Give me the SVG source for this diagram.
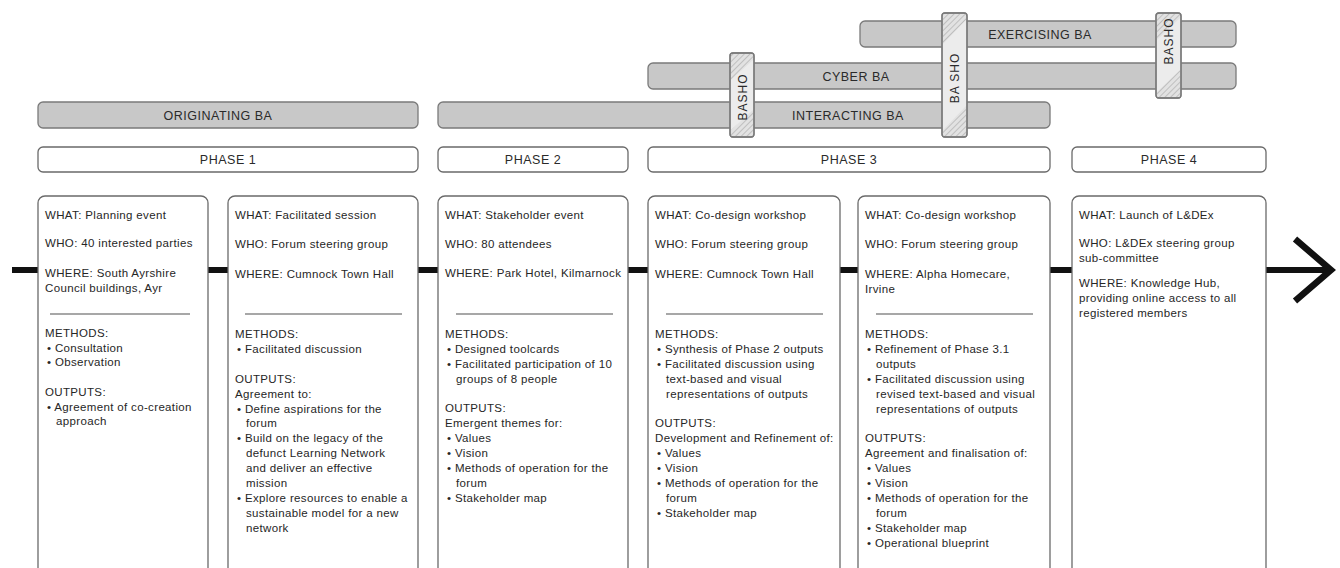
<svg xmlns="http://www.w3.org/2000/svg" width="1340" height="568" viewBox="0 0 1340 568">
<defs>
<style>
.bar{fill:#c8c8c8;stroke:#7a7a7a;stroke-width:1.3}
.phase{fill:#fff;stroke:#6a6a6a;stroke-width:1.3}
.card{fill:#fff;stroke:#6a6a6a;stroke-width:1.3}
.lbl{font-family:"Liberation Sans",Arial,sans-serif;font-size:12.5px;fill:#2a2a2a;text-anchor:middle;letter-spacing:0.5px}
.t{font-family:"Liberation Sans",Arial,sans-serif;font-size:11.5px;fill:#262626;letter-spacing:0.35px}
.sep{stroke:#8a8a8a;stroke-width:1.5}
.basho{fill:#ececec;stroke:#7a7a7a;stroke-width:1.3}
.bt{font-family:"Liberation Sans",Arial,sans-serif;font-size:12px;fill:#2a2a2a;text-anchor:middle;letter-spacing:1px}
</style>
<pattern id="hatch" width="4" height="4" patternUnits="userSpaceOnUse" patternTransform="rotate(45)">
<rect width="4" height="4" fill="#e2e2e2"/>
<line x1="0" y1="0" x2="0" y2="4" stroke="#a8a8a8" stroke-width="1.2"/>
</pattern>
</defs>

<g id="connectors">
<line x1="12" y1="270" x2="1326" y2="270" stroke="#111" stroke-width="6"/>
<polyline points="1295,239 1331,270 1295,301" fill="none" stroke="#111" stroke-width="6.5"/>
</g>

<g id="exercising-ba"><rect class="bar" x="860" y="21" width="376" height="26" rx="5"/><text class="lbl" x="1040" y="38.5">EXERCISING BA</text></g>
<g id="cyber-ba"><rect class="bar" x="648" y="63" width="588" height="26" rx="5"/><text class="lbl" x="856" y="80.5">CYBER BA</text></g>
<g id="interacting-ba"><rect class="bar" x="438" y="102" width="612" height="26" rx="5"/><text class="lbl" x="848" y="119.5">INTERACTING BA</text></g>
<g id="originating-ba"><rect class="bar" x="38" y="102" width="380" height="26" rx="5"/><text class="lbl" x="218" y="119.5">ORIGINATING BA</text></g>

<g id="basho-1">
<rect class="basho" x="730" y="53" width="24" height="84" rx="3"/>
<polygon points="731,54 753,54 753,60 731,80" fill="url(#hatch)"/>
<polygon points="731,136 753,136 753,110 731,130" fill="url(#hatch)"/>
<rect x="730" y="53" width="24" height="84" rx="3" fill="none" stroke="#7a7a7a" stroke-width="1.3"/>
<text class="bt" transform="translate(746.5,97) rotate(-90)">BASHO</text>
</g>
<g id="basho-2">
<rect class="basho" x="942" y="13" width="25" height="124" rx="3"/>
<polygon points="943,14 966,14 966,20 943,44" fill="url(#hatch)"/>
<polygon points="943,136 966,136 966,106 943,130" fill="url(#hatch)"/>
<rect x="942" y="13" width="25" height="124" rx="3" fill="none" stroke="#7a7a7a" stroke-width="1.3"/>
<text class="bt" transform="translate(958.5,78) rotate(-90)">BA SHO</text>
</g>
<g id="basho-3">
<rect class="basho" x="1156" y="13" width="25" height="85" rx="3"/>
<polygon points="1157,14 1180,14 1180,18 1157,40" fill="url(#hatch)"/>
<polygon points="1157,97 1180,97 1180,70 1157,92" fill="url(#hatch)"/>
<rect x="1156" y="13" width="25" height="85" rx="3" fill="none" stroke="#7a7a7a" stroke-width="1.3"/>
<text class="bt" transform="translate(1172.5,41) rotate(-90)">BASHO</text>
</g>

<g id="phase-1"><rect class="phase" x="38" y="147" width="380" height="25" rx="5"/><text class="lbl" x="228" y="164">PHASE 1</text></g>
<g id="phase-2"><rect class="phase" x="438" y="147" width="190" height="25" rx="5"/><text class="lbl" x="533" y="164">PHASE 2</text></g>
<g id="phase-3"><rect class="phase" x="648" y="147" width="402" height="25" rx="5"/><text class="lbl" x="849" y="164">PHASE 3</text></g>
<g id="phase-4"><rect class="phase" x="1072" y="147" width="194" height="25" rx="5"/><text class="lbl" x="1169" y="164">PHASE 4</text></g>

<g id="card-1">
<rect class="card" x="38" y="196" width="170" height="390" rx="7"/>
<text class="t" x="45" y="219">WHAT: Planning event</text>
<text class="t" x="45" y="247">WHO: 40 interested parties</text>
<text class="t" x="45" y="277">WHERE: South Ayrshire</text>
<text class="t" x="45" y="292">Council buildings, Ayr</text>
<line class="sep" x1="50" y1="314" x2="190" y2="314"/>
<text class="t" x="45" y="337">METHODS:</text>
<text class="t" x="47" y="352">• Consultation</text>
<text class="t" x="47" y="366">• Observation</text>
<text class="t" x="45" y="396">OUTPUTS:</text>
<text class="t" x="47" y="411">• Agreement of co-creation</text>
<text class="t" x="56" y="425">approach</text>
</g>

<g id="card-2">
<rect class="card" x="228" y="196" width="190" height="390" rx="7"/>
<text class="t" x="235" y="219">WHAT: Facilitated session</text>
<text class="t" x="235" y="248">WHO: Forum steering group</text>
<text class="t" x="235" y="278">WHERE: Cumnock Town Hall</text>
<line class="sep" x1="245" y1="314" x2="402" y2="314"/>
<text class="t" x="235" y="338">METHODS:</text>
<text class="t" x="237" y="353">• Facilitated discussion</text>
<text class="t" x="235" y="383">OUTPUTS:</text>
<text class="t" x="235" y="398">Agreement to:</text>
<text class="t" x="237" y="413">• Define aspirations for the</text>
<text class="t" x="246" y="427">forum</text>
<text class="t" x="237" y="442">• Build on the legacy of the</text>
<text class="t" x="246" y="457">defunct Learning Network</text>
<text class="t" x="246" y="472">and deliver an effective</text>
<text class="t" x="246" y="487">mission</text>
<text class="t" x="237" y="502">• Explore resources to enable a</text>
<text class="t" x="246" y="517">sustainable model for a new</text>
<text class="t" x="246" y="532">network</text>
</g>

<g id="card-3">
<rect class="card" x="438" y="196" width="190" height="390" rx="7"/>
<text class="t" x="445" y="219">WHAT: Stakeholder event</text>
<text class="t" x="445" y="248">WHO: 80 attendees</text>
<text class="t" x="445" y="277">WHERE: Park Hotel, Kilmarnock</text>
<line class="sep" x1="456" y1="314" x2="613" y2="314"/>
<text class="t" x="445" y="338">METHODS:</text>
<text class="t" x="447" y="353">• Designed toolcards</text>
<text class="t" x="447" y="368">• Facilitated participation of 10</text>
<text class="t" x="456" y="383">groups of 8 people</text>
<text class="t" x="445" y="412">OUTPUTS:</text>
<text class="t" x="445" y="427">Emergent themes for:</text>
<text class="t" x="447" y="442">• Values</text>
<text class="t" x="447" y="457">• Vision</text>
<text class="t" x="447" y="472">• Methods of operation for the</text>
<text class="t" x="456" y="487">forum</text>
<text class="t" x="447" y="502">• Stakeholder map</text>
</g>

<g id="card-4">
<rect class="card" x="648" y="196" width="192" height="390" rx="7"/>
<text class="t" x="655" y="219">WHAT: Co-design workshop</text>
<text class="t" x="655" y="248">WHO: Forum steering group</text>
<text class="t" x="655" y="278">WHERE: Cumnock Town Hall</text>
<line class="sep" x1="666" y1="314" x2="823" y2="314"/>
<text class="t" x="655" y="338">METHODS:</text>
<text class="t" x="657" y="353">• Synthesis of Phase 2 outputs</text>
<text class="t" x="657" y="368">• Facilitated discussion using</text>
<text class="t" x="666" y="383">text-based and visual</text>
<text class="t" x="666" y="398">representations of outputs</text>
<text class="t" x="655" y="427">OUTPUTS:</text>
<text class="t" x="655" y="442">Development and Refinement of:</text>
<text class="t" x="657" y="457">• Values</text>
<text class="t" x="657" y="472">• Vision</text>
<text class="t" x="657" y="487">• Methods of operation for the</text>
<text class="t" x="666" y="502">forum</text>
<text class="t" x="657" y="517">• Stakeholder map</text>
</g>

<g id="card-5">
<rect class="card" x="858" y="196" width="192" height="390" rx="7"/>
<text class="t" x="865" y="219">WHAT: Co-design workshop</text>
<text class="t" x="865" y="248">WHO: Forum steering group</text>
<text class="t" x="865" y="278">WHERE: Alpha Homecare,</text>
<text class="t" x="865" y="293">Irvine</text>
<line class="sep" x1="876" y1="314" x2="1033" y2="314"/>
<text class="t" x="865" y="338">METHODS:</text>
<text class="t" x="867" y="353">• Refinement of Phase 3.1</text>
<text class="t" x="876" y="368">outputs</text>
<text class="t" x="867" y="383">• Facilitated discussion using</text>
<text class="t" x="876" y="398">revised text-based and visual</text>
<text class="t" x="876" y="413">representations of outputs</text>
<text class="t" x="865" y="442">OUTPUTS:</text>
<text class="t" x="865" y="457">Agreement and finalisation of:</text>
<text class="t" x="867" y="472">• Values</text>
<text class="t" x="867" y="487">• Vision</text>
<text class="t" x="867" y="502">• Methods of operation for the</text>
<text class="t" x="876" y="517">forum</text>
<text class="t" x="867" y="532">• Stakeholder map</text>
<text class="t" x="867" y="547">• Operational blueprint</text>
</g>

<g id="card-6">
<rect class="card" x="1072" y="196" width="194" height="390" rx="7"/>
<text class="t" x="1079" y="219">WHAT: Launch of L&amp;DEx</text>
<text class="t" x="1079" y="247">WHO: L&amp;DEx steering group</text>
<text class="t" x="1079" y="262">sub-committee</text>
<text class="t" x="1079" y="287">WHERE: Knowledge Hub,</text>
<text class="t" x="1079" y="302">providing online access to all</text>
<text class="t" x="1079" y="317">registered members</text>
</g>
</svg>
